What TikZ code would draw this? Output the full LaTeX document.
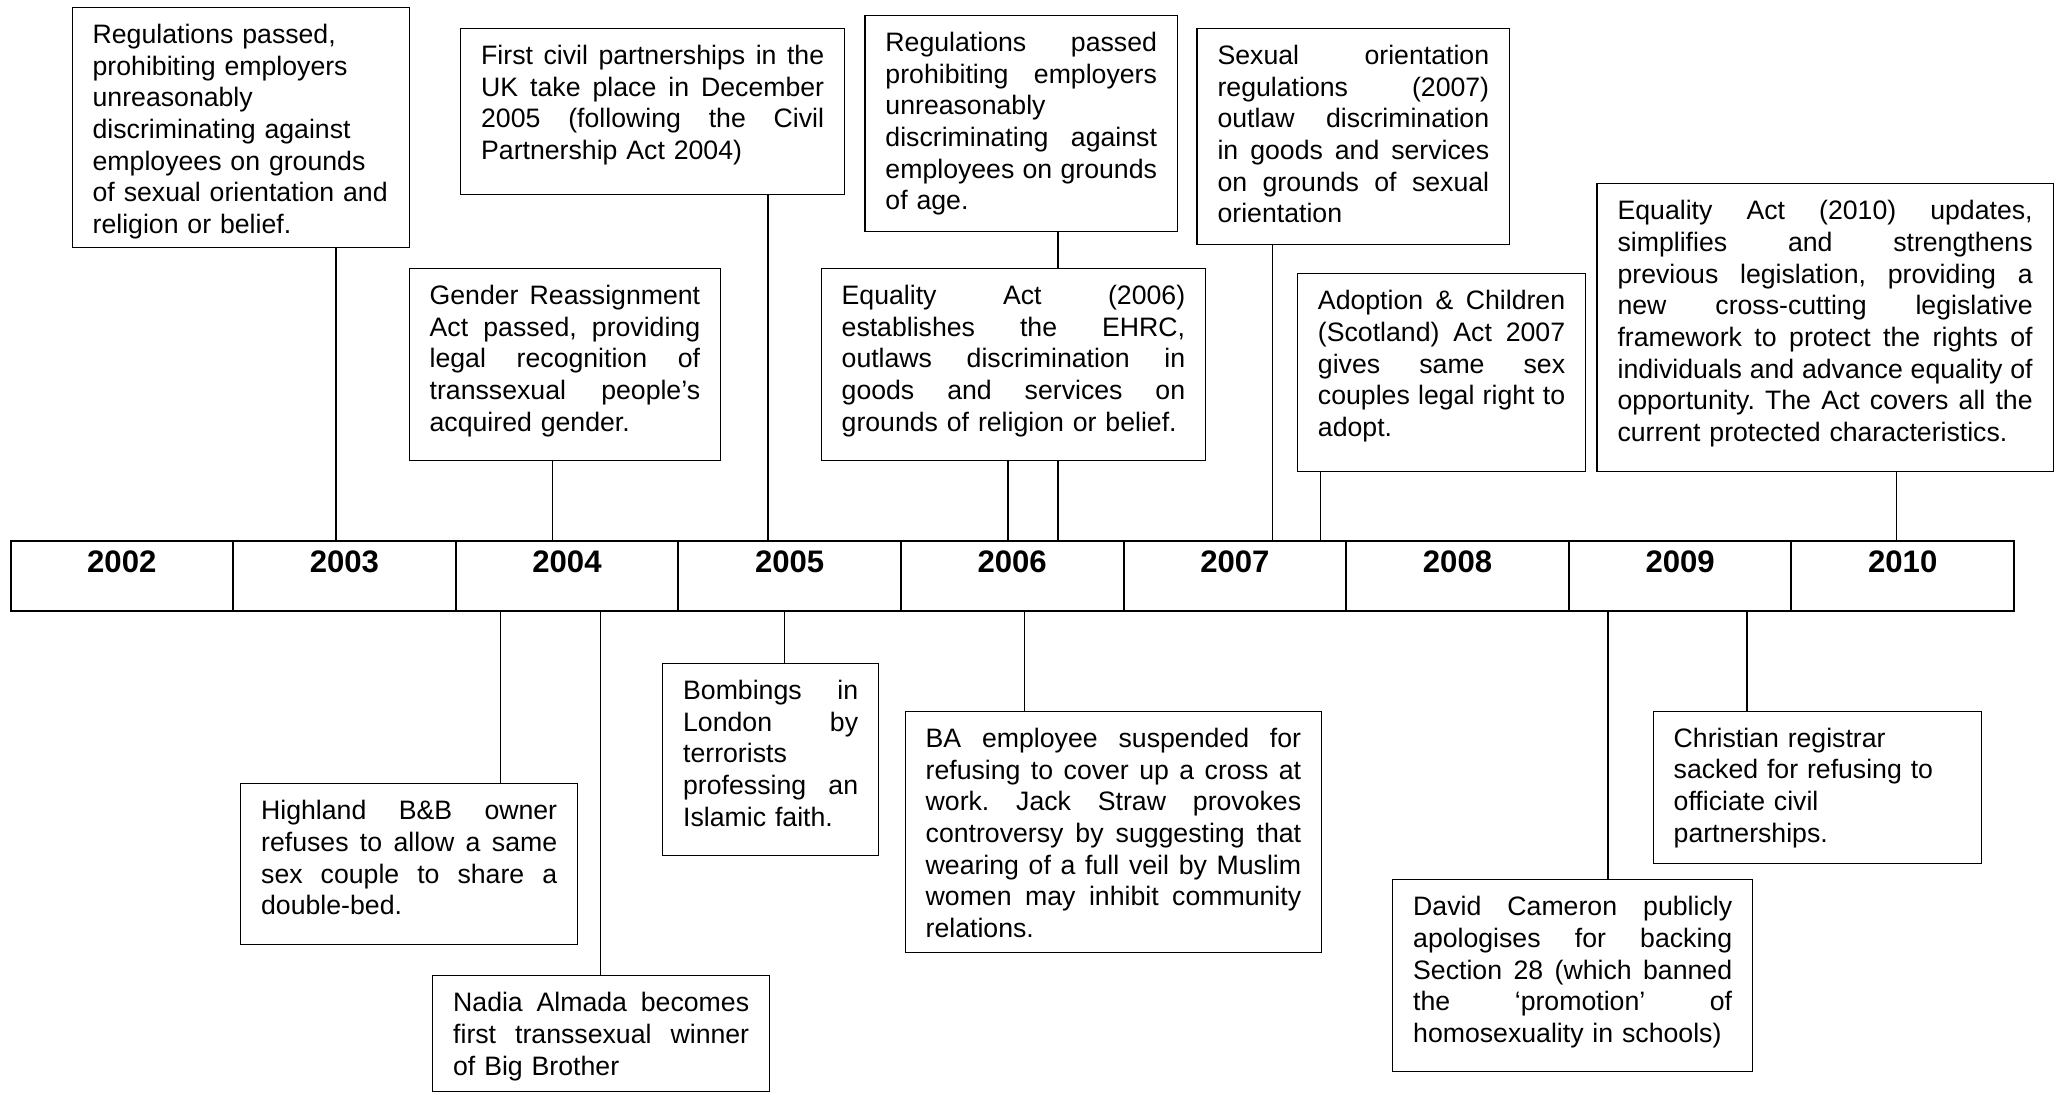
\documentclass[tikz,border=0pt]{standalone}
\usepackage{fontspec}
\setmainfont{Liberation Sans}[Ligatures={TeX,NoCommon}]
\frenchspacing
\newcommand{\jline}[1]{\leavevmode\hbox to \hsize{\spaceskip=0.2778em plus 1fil\relax #1}\\}
\newcommand{\evbox}[6]{%
  \pgfmathsetmacro{\evtw}{(#4-#2-41)*0.45}%
  \pgfmathsetmacro{\evtd}{(#5-#3-36)*0.45}%
  \node[evt, text width=\evtw pt, text depth=\evtd pt] (#1) at (#2,#3) {#6};%
}
\begin{document}
\begin{tikzpicture}[x=0.45pt,y=-0.45pt,
  evt/.style={draw, line width=0.6pt, anchor=north west, inner xsep=9.225pt, inner ysep=0pt,
    text height=16.2pt, align=left, font=\fontsize{12pt}{14.25pt}\selectfont\frenchspacing},
  yr/.style={draw, line width=0.9pt, anchor=north west, inner sep=0pt, minimum width=100.17pt,
    text height=13.95pt, text depth=17.55pt, font=\fontsize{14pt}{16pt}\selectfont\bfseries},
  conn/.style={line width=0.6pt}]
\useasboundingbox (0,0) rectangle (2056,1094);

% timeline
\node[yr] (y2002) at (9.5,540) {2002};
\node[yr] (y2003) at (232.1,540) {2003};
\node[yr] (y2004) at (454.7,540) {2004};
\node[yr] (y2005) at (677.3,540) {2005};
\node[yr] (y2006) at (899.9,540) {2006};
\node[yr] (y2007) at (1122.6,540) {2007};
\node[yr] (y2008) at (1345.2,540) {2008};
\node[yr] (y2009) at (1567.8,540) {2009};
\node[yr] (y2010) at (1790.4,540) {2010};

% upper events
\evbox{A}{71.5}{6.7}{408.5}{246.7}{Regulations passed,\\ prohibiting employers\\ unreasonably\\ discriminating against\\ employees on grounds\\ of sexual orientation and\\ religion or belief.}
\evbox{B}{460}{27.7}{844}{194}{\jline{First civil partnerships in the}\jline{UK take place in December}\jline{2005 (following the Civil}Partnership Act 2004)}
\evbox{C}{408.5}{267.7}{720}{460}{\jline{Gender Reassignment}\jline{Act passed, providing}\jline{legal recognition of}\jline{transsexual people’s}acquired gender.}
\evbox{D}{864.3}{14.7}{1176.8}{230.7}{\jline{Regulations passed}\jline{prohibiting employers}unreasonably\\ \jline{discriminating against}\jline{employees on grounds}of age.}
\evbox{E}{820.5}{267.7}{1205}{460}{\jline{Equality Act (2006)}\jline{establishes the EHRC,}\jline{outlaws discrimination in}\jline{goods and services on}grounds of religion or belief.}
\evbox{F}{1196.4}{27.7}{1509}{244}{\jline{Sexual orientation}\jline{regulations (2007)}\jline{outlaw discrimination}\jline{in goods and services}\jline{on grounds of sexual}orientation}
\evbox{G}{1296.8}{273}{1585}{471}{\jline{Adoption \& Children}\jline{(Scotland) Act 2007}\jline{gives same sex}\jline{couples legal right to}adopt.}
\evbox{H}{1596.4}{183}{2052.5}{471}{\jline{Equality Act (2010) updates,}\jline{simplifies and strengthens}\jline{previous legislation, providing a}\jline{new cross-cutting legislative}\jline{framework to protect the rights of}\jline{individuals and advance equality of}\jline{opportunity. The Act covers all the}current protected characteristics.}

% lower events
\evbox{I}{240}{783}{577}{943.6}{\jline{Highland B\&B owner}\jline{refuses to allow a same}\jline{sex couple to share a}double-bed.}
\evbox{J}{432}{975}{769}{1091}{\jline{Nadia Almada becomes}\jline{first transsexual winner}of Big Brother}
\evbox{K}{662}{662.8}{878}{855}{\jline{Bombings in}\jline{London by}terrorists\\ \jline{professing an}Islamic faith.}
\evbox{L}{904.5}{710.7}{1321}{951.7}{\jline{BA employee suspended for}\jline{refusing to cover up a cross at}\jline{work. Jack Straw provokes}\jline{controversy by suggesting that}\jline{wearing of a full veil by Muslim}\jline{women may inhibit community}relations.}
\evbox{M}{1392}{879}{1752}{1071}{\jline{David Cameron publicly}\jline{apologises for backing}\jline{Section 28 (which banned}\jline{the ‘promotion’ of}homosexuality in schools)}
\evbox{N}{1652.5}{710.5}{1981}{862.8}{Christian registrar\\ sacked for refusing to\\ officiate civil\\ partnerships.}

% connector x positions
\coordinate (xA) at (336,0);
\coordinate (xB) at (768,0);
\coordinate (xC) at (552.5,0);
\coordinate (xD) at (1058,0);
\coordinate (xE) at (1008,0);
\coordinate (xF) at (1272.5,0);
\coordinate (xG) at (1320.5,0);
\coordinate (xH) at (1896.5,0);
\coordinate (xI) at (500.5,0);
\coordinate (xJ) at (600.5,0);
\coordinate (xK) at (784.5,0);
\coordinate (xL) at (1024.5,0);
\coordinate (xM) at (1608,0);
\coordinate (xN) at (1747,0);

\draw[conn] (A.south -| xA) -- (y2003.north -| xA);
\draw[conn] (C.south -| xC) -- (y2004.north -| xC);
\draw[conn] (B.south -| xB) -- (y2005.north -| xB);
\draw[conn] (E.south -| xE) -- (y2006.north -| xE);
\draw[conn] (D.south -| xD) -- (E.north -| xD);
\draw[conn] (E.south -| xD) -- (y2006.north -| xD);
\draw[conn] (F.south -| xF) -- (y2007.north -| xF);
\draw[conn] (G.south -| xG) -- (y2007.north -| xG);
\draw[conn] (H.south -| xH) -- (y2010.north -| xH);

\draw[conn] (y2004.south -| xI) -- (I.north -| xI);
\draw[conn] (y2004.south -| xJ) -- (J.north -| xJ);
\draw[conn] (y2005.south -| xK) -- (K.north -| xK);
\draw[conn] (y2006.south -| xL) -- (L.north -| xL);
\draw[conn] (y2009.south -| xM) -- (M.north -| xM);
\draw[conn] (y2009.south -| xN) -- (N.north -| xN);
\end{tikzpicture}
\end{document}
